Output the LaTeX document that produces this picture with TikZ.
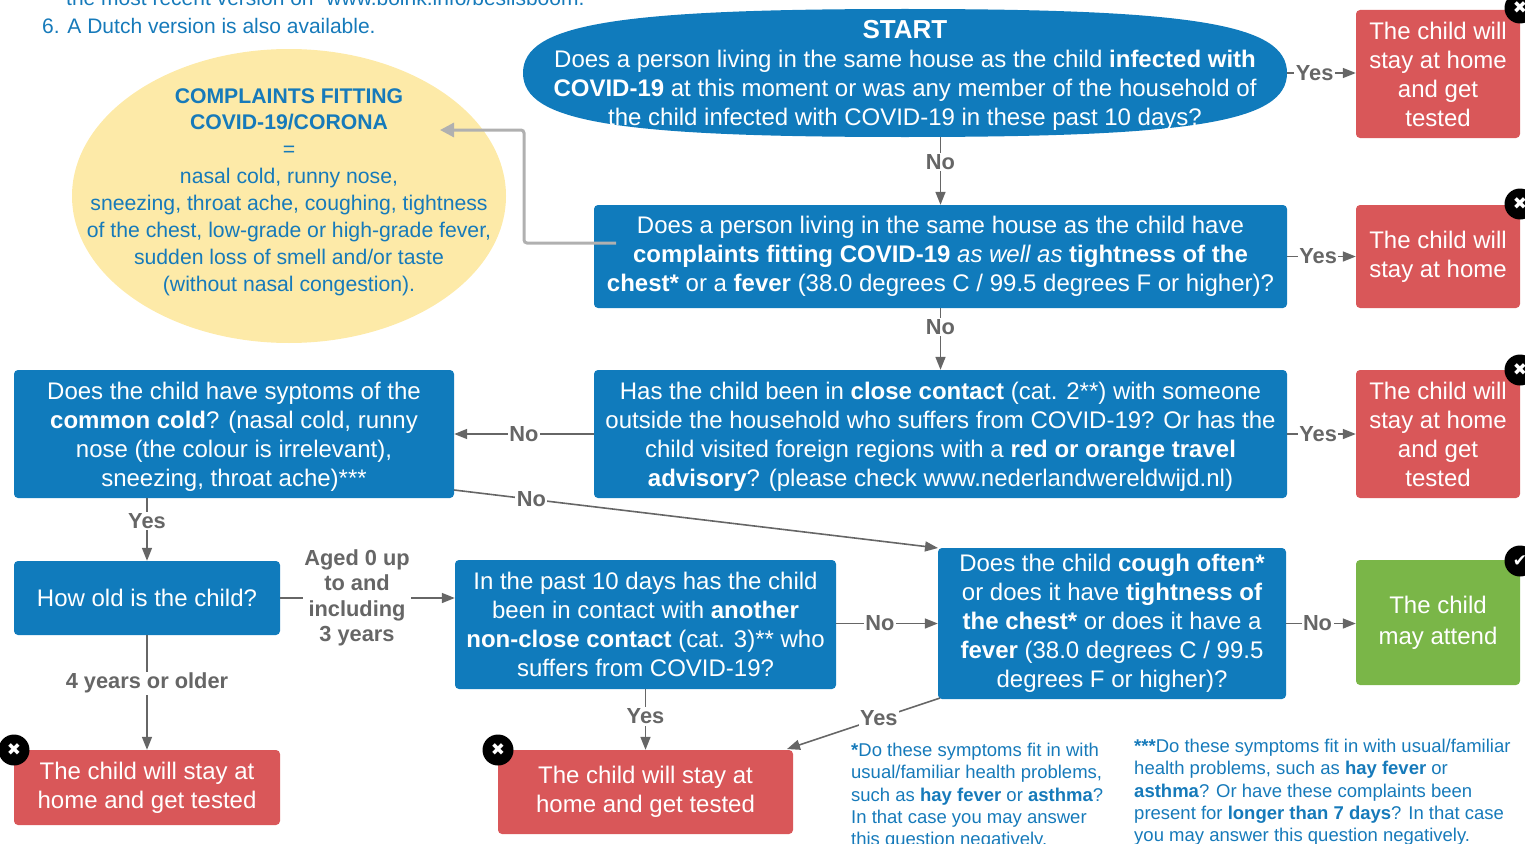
\documentclass[tikz,border=0pt]{standalone}
\usepackage{fontspec}
\setmainfont{Liberation Sans}
\newfontfamily\symf{DejaVu Sans}
\usetikzlibrary{shapes.geometric,arrows.meta}
\definecolor{qblue}{RGB}{16,123,188}
\definecolor{cred}{RGB}{217,87,89}
\definecolor{cgreen}{RGB}{122,182,72}
\definecolor{cyellow}{RGB}{253,234,168}
\definecolor{lgray}{RGB}{102,102,102}
\definecolor{pgray}{RGB}{176,176,176}
\definecolor{tblue}{RGB}{22,122,186}
\tikzset{
  boxbase/.style={rounded corners=4pt, text=white, align=center, inner sep=0pt,
     font=\fontsize{24}{29}\selectfont},
  qbox/.style={boxbase, fill=qblue},
  redbox/.style={boxbase, fill=cred},
  greenbox/.style={boxbase, fill=cgreen},
  lbl/.style={font=\fontsize{21.8}{25.3}\selectfont\bfseries, text=lgray, fill=white, inner sep=1.5pt, align=center},
  conn/.style={draw=lgray, line width=1.6pt, -{Triangle[length=13pt,width=10pt]}},
  icon/.style={circle, fill=black, minimum size=31pt, inner sep=0pt, text=white, font=\symf\fontsize{17}{17}\selectfont},
  note/.style={text=tblue, align=left, inner sep=0pt, anchor=north west, font=\fontsize{18.5}{22.2}\selectfont},
}
\begin{document}
\begin{tikzpicture}[x=1pt,y=-1pt]
\useasboundingbox (0,0) rectangle (1525,843);
% header
\node[text=tblue, anchor=west, inner sep=0pt, font=\fontsize{21}{24}\selectfont] (hdr0) at (66,-2) {the most recent version on "www.boink.info/beslisboom."};
\node[text=tblue, anchor=west, inner sep=0pt, font=\fontsize{21}{24}\selectfont] (hdr1) at (42,26) {6. A Dutch version is also available.};
% yellow ellipse
\node[ellipse, fill=cyellow, minimum width=434pt, minimum height=294pt, inner sep=0pt] (yell) at (289,196) {};
\node[text=tblue, align=center, inner sep=0pt, font=\fontsize{21.2}{26.9}\selectfont] (yelltext) at (289,192) {\textbf{COMPLAINTS FITTING}\\ \textbf{COVID-19/CORONA}\\ =\\ nasal cold, runny nose,\\ sneezing, throat ache, coughing, tightness\\ of the chest, low-grade or high-grade fever,\\ sudden loss of smell and/or taste\\ (without nasal congestion).};
% start shape (fuller than a true ellipse)
\fill[qblue] (1287,73) .. controls (1287,121.6) and (1195,137) .. (905,137)
   .. controls (615,137) and (523,121.6) .. (523,73)
   .. controls (523,24.4) and (615,9) .. (905,9)
   .. controls (1195,9) and (1287,24.4) .. (1287,73) -- cycle;
\node[ellipse, minimum width=764pt, minimum height=128pt, inner sep=0pt] (start) at (905,73) {};
\node[text=white, align=center, inner sep=0pt, font=\fontsize{24}{29}\selectfont] (starttext) at (905,75) {\fontsize{26}{29}\selectfont\textbf{START}\\ Does a person living in the same house as the child \textbf{infected with}\\ \textbf{COVID-19} at this moment or was any member of the household of\\ the child infected with COVID-19 in these past 10 days?};
% question boxes
\node[qbox, minimum width=693pt, minimum height=103pt] (q2) at (940.5,256.5) {Does a person living in the same house as the child have\\ \textbf{complaints fitting COVID-19} \textit{as well as} \textbf{tightness of the}\\ \textbf{chest*} or a \textbf{fever} (38.0 degrees C / 99.5 degrees F or higher)?};
\node[qbox, minimum width=693pt, minimum height=128pt] (q3) at (940.5,434) {\rule{0pt}{23pt}Has the child been in \textbf{close contact} (cat. 2**) with someone\\ outside the household who suffers from COVID-19? Or has the\\ child visited foreign regions with a \textbf{red or orange travel}\\ \textbf{advisory}? (please check www.nederlandwereldwijd.nl)};
\node[qbox, minimum width=440pt, minimum height=128pt] (cold) at (234,434) {\rule{0pt}{23pt}Does the child have syptoms of the\\ \textbf{common cold}? (nasal cold, runny\\ nose (the colour is irrelevant),\\ sneezing, throat ache)***};
\node[qbox, minimum width=266pt, minimum height=74pt] (age) at (147,598) {How old is the child?};
\node[qbox, minimum width=381pt, minimum height=129pt] (nonclose) at (645.5,624.5) {In the past 10 days has the child\\ been in contact with \textbf{another}\\ \textbf{non-close contact} (cat. 3)** who\\ suffers from COVID-19?};
\node[qbox, minimum width=348pt, minimum height=151pt] (cough) at (1112,623.5) {Does the child \textbf{cough often*}\\ or does it have \textbf{tightness of}\\ \textbf{the chest*} or does it have a\\ \textbf{fever} (38.0 degrees C / 99.5\\ degrees F or higher)?};
% outcome boxes
\node[redbox, minimum width=164pt, minimum height=128pt] (r1) at (1438,74) {The child will\\ stay at home\\ and get\\ tested};
\node[redbox, minimum width=164pt, minimum height=103pt] (r2) at (1438,256.5) {The child will\\ stay at home};
\node[redbox, minimum width=164pt, minimum height=128pt] (r3) at (1438,434) {The child will\\ stay at home\\ and get\\ tested};
\node[greenbox, minimum width=164pt, minimum height=125pt, font=\fontsize{24}{31}\selectfont] (gr) at (1438,622.5) {The child\\ may attend};
\node[redbox, minimum width=266pt, minimum height=75pt] (rbl) at (147,787.5) {The child will stay at\\ home and get tested};
\node[redbox, minimum width=295pt, minimum height=84pt] (rbm) at (645.5,792) {The child will stay at\\ home and get tested};
% icons
\node[icon] (i1) at (1520,8) {✖};
\node[icon] (i2) at (1520,204) {✖};
\node[icon] (i3) at (1520,370) {✖};
\node[icon] (i4) at (1520,561) {✔};
\node[icon] (i5) at (14,750) {✖};
\node[icon] (i6) at (498,750) {✖};
% connectors
\draw[conn] (start.east) -- node[lbl, pos=0.4] {Yes} (r1.west |- start.east);
\draw[conn] (start.south -| q2.north) -- node[lbl, pos=0.37] {No} (q2.north);
\draw[conn] (q2.east) -- node[lbl, pos=0.45] {Yes} (r2.west);
\draw[conn] (q2.south) -- node[lbl, pos=0.3] {No} (q3.north);
\draw[conn] (q3.east) -- node[lbl, pos=0.45] {Yes} (r3.west);
\draw[conn] (q3.west) -- node[lbl, pos=0.5] {No} (cold.east);
\coordinate (coldout) at (454,490);
\coordinate (coughin) at (938,548);
\draw[conn] (coldout) -- node[lbl, pos=0.16] {No} (coughin);
\draw[conn] (cold.south -| age.north) -- node[lbl, pos=0.37] {Yes} (age.north);
\draw[conn] (age.east) -- node[lbl, pos=0.44] {Aged 0 up\\ to and\\ including\\ 3 years} (nonclose.west |- age.east);
\draw[conn] (age.south) -- node[lbl, pos=0.42] {4 years or older} (rbl.north);
\draw[conn] (nonclose.east |- cough.west) -- node[lbl, pos=0.43] {No} (cough.west);
\draw[conn] (nonclose.south) -- node[lbl, pos=0.45] {Yes} (rbm.north);
\coordinate (coughout) at (940,698);
\coordinate (rbmin) at (787,749);
\draw[conn] (coughout) -- node[lbl, pos=0.4] {Yes} (rbmin);
\draw[conn] (cough.east) -- node[lbl, pos=0.45] {No} (gr.west |- cough.east);
% gray link to yellow ellipse
\coordinate (gstart) at (616,243);
\coordinate (gend) at (440,130);
\draw[draw=pgray, line width=3pt, rounded corners=3pt, -{Triangle[length=14pt,width=14pt]}] (gstart) -- (524,243) -- (524,130) -- (gend);
% notes
\node[note] (n1) at (851,743) {\textbf{*}Do these symptoms fit in with\\ usual/familiar health problems,\\ such as \textbf{hay fever} or \textbf{asthma}?\\ In that case you may answer\\ this question negatively.};
\node[note] (n2) at (1134,739) {\textbf{***}Do these symptoms fit in with usual/familiar\\ health problems, such as \textbf{hay fever} or\\ \textbf{asthma}? Or have these complaints been\\ present for \textbf{longer than 7 days}? In that case\\ you may answer this question negatively.};
\end{tikzpicture}
\end{document}
